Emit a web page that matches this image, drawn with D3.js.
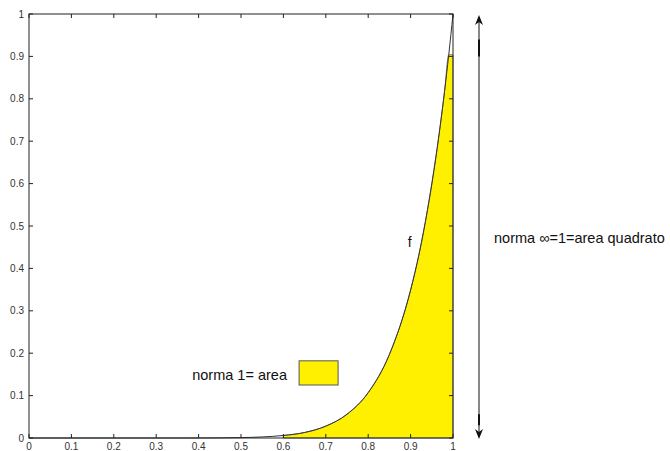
<!DOCTYPE html>
<html>
<head>
<meta charset="utf-8">
<script src="https://cdn.jsdelivr.net/npm/d3@7"></script>
<style>
  body { margin: 0; background: #fff; }
  svg { display: block; font-family: Arial, "Liberation Sans", sans-serif; }
</style>
</head>
<body>
<svg id="chart" width="670" height="451"></svg>
<script>
// curve f
const curveX = [0, 0.1, 0.2, 0.3, 0.4, 0.5, 0.55, 0.6, 0.65, 0.7, 0.75, 0.8, 0.85, 0.9, 0.92, 0.94, 0.96, 0.98, 0.99, 1];
const curveY = [0, 0, 0, 0, 0.0001, 0.001, 0.0025, 0.006, 0.013, 0.028, 0.056, 0.107, 0.197, 0.349, 0.434, 0.539, 0.665, 0.817, 0.904, 1];

// yellow area (norma 1), from 0.6 to 1, capped at the last sample
const areaX = [0.6, 0.65, 0.7, 0.75, 0.8, 0.85, 0.9, 0.92, 0.94, 0.96, 0.98, 0.99, 1];
const areaY = [0.006, 0.013, 0.028, 0.056, 0.107, 0.197, 0.349, 0.434, 0.539, 0.665, 0.817, 0.904, 0.904];

const xTicks = [0, 0.1, 0.2, 0.3, 0.4, 0.5, 0.6, 0.7, 0.8, 0.9, 1];
const yTicks = [0, 0.1, 0.2, 0.3, 0.4, 0.5, 0.6, 0.7, 0.8, 0.9, 1];

const legendText = "norma 1= area";
const curveLabel = "f";
const arrowText = "norma \u221e=1=area quadrato";

const margin = { top: 14, right: 217, bottom: 13, left: 29 };
const svg = d3.select("#chart");
const width = 670 - margin.left - margin.right;
const height = 451 - margin.top - margin.bottom;

const x = d3.scaleLinear().domain([0, 1]).range([0, width]);
const y = d3.scaleLinear().domain([0, 1]).range([height, 0]);

const g = svg.append("g").attr("transform", `translate(${margin.left},${margin.top})`);

// yellow area
const areaPts = areaX.map((d, i) => [d, areaY[i]]);
g.append("path")
  .datum(areaPts)
  .attr("d", d3.area().x(d => x(d[0])).y0(y(0)).y1(d => y(d[1])).curve(d3.curveMonotoneX))
  .attr("fill", "#fff000")
  .attr("stroke", "#666")
  .attr("stroke-width", 0.8);

// curve
const curvePts = curveX.map((d, i) => [d, curveY[i]]);
g.append("path")
  .datum(curvePts)
  .attr("d", d3.line().x(d => x(d[0])).y(d => y(d[1])).curve(d3.curveMonotoneX))
  .attr("fill", "none")
  .attr("stroke", "#333")
  .attr("stroke-width", 1);

// box with inward ticks (matlab style)
const tickLen = 4;
const axisColor = "#222";
g.append("rect")
  .attr("width", width).attr("height", height)
  .attr("fill", "none").attr("stroke", axisColor).attr("stroke-width", 1);

xTicks.forEach(t => {
  g.append("line").attr("x1", x(t)).attr("x2", x(t)).attr("y1", height).attr("y2", height - tickLen).attr("stroke", axisColor);
  g.append("line").attr("x1", x(t)).attr("x2", x(t)).attr("y1", 0).attr("y2", tickLen).attr("stroke", axisColor);
  g.append("text").attr("x", x(t)).attr("y", height + 12)
    .attr("text-anchor", "middle").attr("font-size", 10).attr("fill", "#333").text(t);
});
yTicks.forEach(t => {
  g.append("line").attr("x1", 0).attr("x2", tickLen).attr("y1", y(t)).attr("y2", y(t)).attr("stroke", axisColor);
  g.append("line").attr("x1", width).attr("x2", width - tickLen).attr("y1", y(t)).attr("y2", y(t)).attr("stroke", axisColor);
  g.append("text").attr("x", -5).attr("y", y(t) + 3.5)
    .attr("text-anchor", "end").attr("font-size", 10).attr("fill", "#333").text(t);
});

// legend for the area
g.append("text").attr("x", x(0.385)).attr("y", y(0.14) + 1)
  .attr("font-size", 14.5).attr("fill", "#111").text(legendText);
g.append("rect")
  .attr("x", x(0.637)).attr("y", y(0.182))
  .attr("width", x(0.092)).attr("height", y(1 - 0.057))
  .attr("fill", "#fff000").attr("stroke", "#555").attr("stroke-width", 1);

// label f
g.append("text").attr("x", x(0.893)).attr("y", y(0.45))
  .attr("font-size", 14).attr("fill", "#111").text(curveLabel);

// double arrow for norma infinito
const ax = width + 26;
const arrow = g.append("g").attr("stroke", "#111").attr("fill", "#111");
arrow.append("line").attr("x1", ax).attr("x2", ax).attr("y1", y(1) + 3).attr("y2", y(0) - 1).attr("stroke-width", 1);
arrow.append("line").attr("x1", ax).attr("x2", ax).attr("y1", y(0.94)).attr("y2", y(0.9)).attr("stroke-width", 2);
arrow.append("line").attr("x1", ax).attr("x2", ax).attr("y1", y(0.056)).attr("y2", y(0.03)).attr("stroke-width", 2);
arrow.append("path").attr("stroke", "none")
  .attr("d", `M${ax},${y(1) + 1} L${ax - 4},${y(1) + 11} L${ax},${y(1) + 8} L${ax + 4},${y(1) + 11} Z`);
arrow.append("path").attr("stroke", "none")
  .attr("d", `M${ax},${y(0) + 1} L${ax - 4},${y(0) - 9} L${ax},${y(0) - 6} L${ax + 4},${y(0) - 9} Z`);

g.append("text").attr("x", width + 41).attr("y", y(0.46))
  .attr("font-size", 14.5).attr("fill", "#111").text(arrowText);
</script>
</body>
</html>
